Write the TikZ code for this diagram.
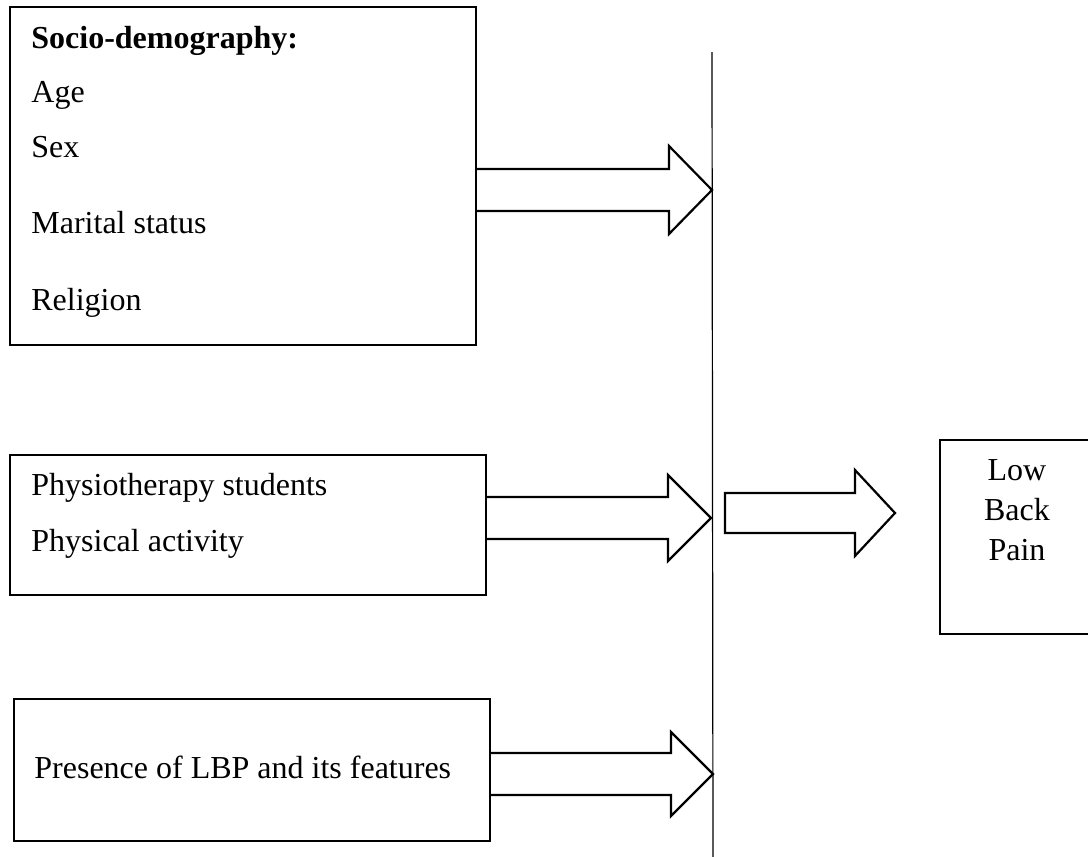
\documentclass[tikz,border=0pt]{standalone}
\usepackage{fontspec}
\setmainfont{Liberation Serif}
\usetikzlibrary{
		calc,
		positioning
	}

\begin{document}
\begin{tikzpicture}[x=0.5pt, y=-0.5pt,
		box/.style={draw, line width=1.2pt, inner sep=0pt},
		txt/.style={inner sep=0pt, anchor=base west, font=\fontsize{16}{19}\selectfont},
		ctxt/.style={txt, anchor=base},
		barrow/.style={draw, line width=1.1pt, line join=miter},
		divider/.style={line width=0.6pt}]
		\useasboundingbox (0,0) rectangle (1088,857);
		% boxes on the left
		\node[box, minimum width=233pt, minimum height=169pt] (soc) at (243,176) {};
		\node[box, minimum width=238pt, minimum height=70pt] (phys) at (248,525) {};
		\node[box, minimum width=238pt, minimum height=71pt] (lbp) at (252,770) {};
		\node[box, minimum width=80pt, minimum height=97pt] (pain) at (1020,537) {}; % right side runs off the page
		% texts
		\node[txt] (t-soc) at (31,48) {\textbf{Socio-demography:}};
		\node[txt] (t-age) at (31,102) {Age};
		\node[txt] (t-sex) at (31,157) {Sex};
		\node[txt] (t-mar) at (31,233) {Marital status};
		\node[txt] (t-rel) at (31,310) {Religion};
		\node[txt] (t-stu) at (31,495) {Physiotherapy students};
		\node[txt] (t-act) at (31,551) {Physical activity};
		\node[txt] (t-lbp) at (34,778) {Presence of LBP and its features};
		\node[ctxt] (t-low) at (1017,480) {Low};
		\node[ctxt] (t-back) at (1017,520) {Back};
		\node[ctxt] (t-pain) at (1017,560) {Pain};
		% the vertical line and the arrow tips on it
		\coordinate (bartop) at (712,52);
		\coordinate (barbot) at (713,860);
		\coordinate (tip1) at (712,190);
		\coordinate (tip2) at (711,518);
		\coordinate (tip3) at (713,774);
		\coordinate (tail4) at (725,513);
		\coordinate (tip4) at (895,513);
		\draw[divider] (bartop) -- (barbot);
		% block arrows: shaft 42, head 88, head length 43
		\draw[barrow] ($(soc.east |- tip1)+(0,-21)$) -- ($(tip1)+(-43,-21)$) -- ($(tip1)+(-43,-44)$) -- (tip1) -- ($(tip1)+(-43,44)$) -- ($(tip1)+(-43,21)$) -- ($(soc.east |- tip1)+(0,21)$);
		\draw[barrow] ($(phys.east |- tip2)+(0,-21)$) -- ($(tip2)+(-43,-21)$) -- ($(tip2)+(-43,-43)$) -- (tip2) -- ($(tip2)+(-43,43)$) -- ($(tip2)+(-43,21)$) -- ($(phys.east |- tip2)+(0,21)$);
		\draw[barrow] ($(lbp.east |- tip3)+(0,-21)$) -- ($(tip3)+(-42,-21)$) -- ($(tip3)+(-42,-42)$) -- (tip3) -- ($(tip3)+(-42,42)$) -- ($(tip3)+(-42,21)$) -- ($(lbp.east |- tip3)+(0,21)$);
		\draw[barrow] ($(tail4)+(0,-20)$) -- ($(tip4)+(-40,-20)$) -- ($(tip4)+(-40,-43)$) -- (tip4) -- ($(tip4)+(-40,43)$) -- ($(tip4)+(-40,20)$) -- ($(tail4)+(0,20)$) -- cycle;
	\end{tikzpicture}
\end{document}
